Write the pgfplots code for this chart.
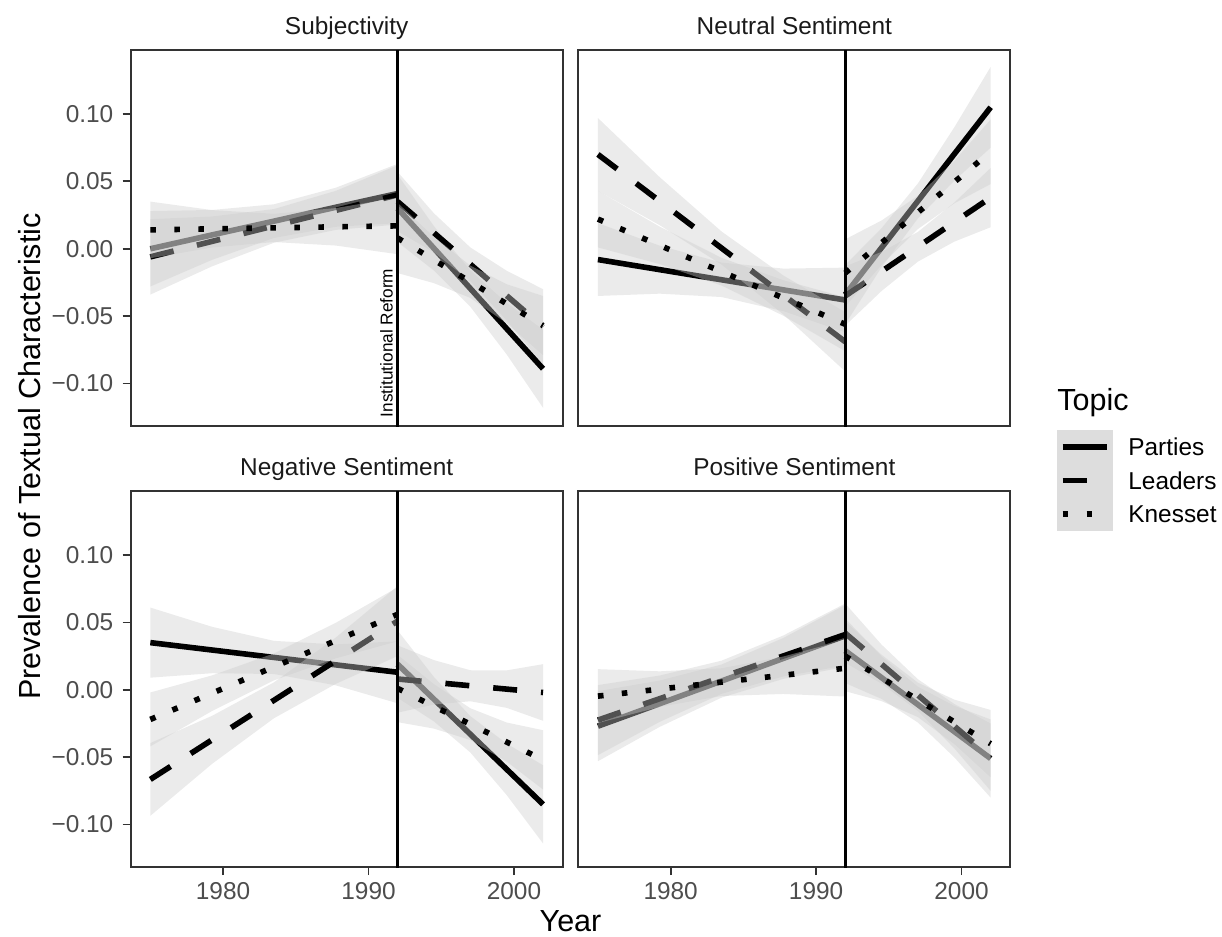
\documentclass[border=0pt]{standalone}
\usepackage{fontspec}
\setmainfont{Liberation Sans}
\usepackage{pgfplots}
\usepackage{pgfplotstable}
\pgfplotsset{compat=1.18}

\definecolor{ribfill}{gray}{0.8}
\definecolor{keyfill}{gray}{0.865}
\definecolor{tickgray}{HTML}{4D4D4D}
\definecolor{border}{HTML}{333333}
\definecolor{striptext}{HTML}{1A1A1A}

\newcommand{\smallfont}{\fontsize{12.2pt}{14pt}\selectfont}
\newcommand{\basefont}{\fontsize{15.25pt}{18pt}\selectfont}

\tikzset{
  parties/.style={black, line width=2.8pt},
  leaders/.style={black, line width=2.8pt, dash pattern=on 12pt off 12pt},
  knesset/.style={black, line width=2.8pt, dash pattern=on 2.8pt off 9.2pt},
  ribbon/.style={fill=ribfill, fill opacity=0.4, draw=none},
}

% year, fitted value (y) and band half-width (w) for Parties, Leaders, Knesset;
% rows run forward (s=1, upper edge) then back (s=-1, lower edge) so one path outlines the band
\pgfplotstableread{
x       s  Py      Pw      Ly      Lw      Ky      Kw
1975    1  0.000   0.028   -0.006  0.028   0.014   0.021
1979.25 1  0.0103  0.0185  0.0055  0.0185  0.0148  0.0139
1983.5  1  0.0205  0.0125  0.017   0.0125  0.0155  0.0105
1987.75 1  0.0308  0.0145  0.0285  0.0145  0.0163  0.0139
1992    1  0.041   0.022   0.040   0.022   0.017   0.021
1992    -1 0.041   0.022   0.040   0.022   0.017   0.021
1987.75 -1 0.0308  0.0145  0.0285  0.0145  0.0163  0.0139
1983.5  -1 0.0205  0.0125  0.017   0.0125  0.0155  0.0105
1979.25 -1 0.0103  0.0185  0.0055  0.0185  0.0148  0.0139
1975    -1 0.000   0.028   -0.006  0.028   0.014   0.021
}\SubPre
\pgfplotstableread{
x       s  Py      Pw      Ly      Lw      Ky      Kw
1992    1  0.030   0.025   0.035   0.022   0.008   0.026
1994.5  1  0.0003  0.0165  0.0118  0.0145  -0.0083 0.0172
1997    1  -0.0295 0.0135  -0.0115 0.0125  -0.0245 0.012
1999.5  1  -0.0593 0.0191  -0.0348 0.0185  -0.0408 0.0145
2002    1  -0.089  0.029   -0.058  0.028   -0.057  0.022
2002    -1 -0.089  0.029   -0.058  0.028   -0.057  0.022
1999.5  -1 -0.0593 0.0191  -0.0348 0.0185  -0.0408 0.0145
1997    -1 -0.0295 0.0135  -0.0115 0.0125  -0.0245 0.012
1994.5  -1 0.0003  0.0165  0.0118  0.0145  -0.0083 0.0172
1992    -1 0.030   0.025   0.035   0.022   0.008   0.026
}\SubPost
\pgfplotstableread{
x       s  Py      Pw      Ly      Lw      Ky      Kw
1975    1  -0.008  0.027   0.070   0.027   0.022   0.021
1979.25 1  -0.0155 0.0178  0.0353  0.0178  0.0025  0.0139
1983.5  1  -0.023  0.0128  0.0005  0.0123  -0.017  0.0103
1987.75 1  -0.0305 0.0158  -0.0343 0.0145  -0.0365 0.0132
1992    1  -0.038  0.024   -0.069  0.022   -0.056  0.020
1992    -1 -0.038  0.024   -0.069  0.022   -0.056  0.020
1987.75 -1 -0.0305 0.0158  -0.0343 0.0145  -0.0365 0.0132
1983.5  -1 -0.023  0.0128  0.0005  0.0123  -0.017  0.0103
1979.25 -1 -0.0155 0.0178  0.0353  0.0178  0.0025  0.0139
1975    -1 -0.008  0.027   0.070   0.027   0.022   0.021
}\NeuPre
\pgfplotstableread{
x       s  Py      Pw      Ly      Lw      Ky      Kw
1992    1  -0.034  0.022   -0.035  0.022   -0.018  0.025
1994.5  1  0.0008  0.0145  -0.0168 0.0145  0.0045  0.0165
1997    1  0.0355  0.013   0.0015  0.011   0.027   0.0123
1999.5  1  0.0703  0.0198  0.0198  0.0145  0.0495  0.0158
2002    1  0.105   0.030   0.038   0.022   0.072   0.024
2002    -1 0.105   0.030   0.038   0.022   0.072   0.024
1999.5  -1 0.0703  0.0198  0.0198  0.0145  0.0495  0.0158
1997    -1 0.0355  0.013   0.0015  0.011   0.027   0.0123
1994.5  -1 0.0008  0.0145  -0.0168 0.0145  0.0045  0.0165
1992    -1 -0.034  0.022   -0.035  0.022   -0.018  0.025
}\NeuPost
\pgfplotstableread{
x       s  Py      Pw      Ly      Lw      Ky      Kw
1975    1  0.035   0.026   -0.0665 0.027   -0.022  0.020
1979.25 1  0.0295  0.0172  -0.0371 0.0178  -0.0025 0.0132
1983.5  1  0.024   0.0123  -0.0078 0.0133  0.017   0.010
1987.75 1  0.0185  0.0152  0.0216  0.0172  0.0365  0.0132
1992    1  0.013   0.023   0.051   0.026   0.056   0.020
1992    -1 0.013   0.023   0.051   0.026   0.056   0.020
1987.75 -1 0.0185  0.0152  0.0216  0.0172  0.0365  0.0132
1983.5  -1 0.024   0.0123  -0.0078 0.0133  0.017   0.010
1979.25 -1 0.0295  0.0172  -0.0371 0.0178  -0.0025 0.0132
1975    -1 0.035   0.026   -0.0665 0.027   -0.022  0.020
}\NegPre
\pgfplotstableread{
x       s  Py      Pw      Ly      Lw      Ky      Kw
1992    1  0.019   0.025   0.008   0.025   0.001   0.025
1994.5  1  -0.007  0.0165  0.0055  0.0165  -0.0123 0.0165
1997    1  -0.033  0.0135  0.003   0.0115  -0.0255 0.0118
1999.5  1  -0.059  0.0191  0.0005  0.0139  -0.0388 0.0145
2002    1  -0.085  0.029   -0.002  0.021   -0.052  0.022
2002    -1 -0.085  0.029   -0.002  0.021   -0.052  0.022
1999.5  -1 -0.059  0.0191  0.0005  0.0139  -0.0388 0.0145
1997    -1 -0.033  0.0135  0.003   0.0115  -0.0255 0.0118
1994.5  -1 -0.007  0.0165  0.0055  0.0165  -0.0123 0.0165
1992    -1 0.019   0.025   0.008   0.025   0.001   0.025
}\NegPost
\pgfplotstableread{
x       s  Py      Pw      Ly      Lw      Ky      Kw
1975    1  -0.027  0.026   -0.0225 0.026   -0.0047 0.020
1979.25 1  -0.0103 0.0172  -0.0066 0.0172  0.0005  0.0132
1983.5  1  0.0065  0.0123  0.0093  0.0123  0.0057  0.0103
1987.75 1  0.0233  0.0152  0.0251  0.0152  0.0108  0.0139
1992    1  0.040   0.023   0.041   0.023   0.016   0.021
1992    -1 0.040   0.023   0.041   0.023   0.016   0.021
1987.75 -1 0.0233  0.0152  0.0251  0.0152  0.0108  0.0139
1983.5  -1 0.0065  0.0123  0.0093  0.0123  0.0057  0.0103
1979.25 -1 -0.0103 0.0172  -0.0066 0.0172  0.0005  0.0132
1975    -1 -0.027  0.026   -0.0225 0.026   -0.0047 0.020
}\PosPre
\pgfplotstableread{
x       s  Py      Pw      Ly      Lw      Ky      Kw
1992    1  0.029   0.024   0.042   0.022   0.025   0.026
1994.5  1  0.009   0.0158  0.019   0.0145  0.0088  0.0172
1997    1  -0.011  0.0133  -0.004  0.0118  -0.0075 0.0128
1999.5  1  -0.031  0.0191  -0.027  0.0165  -0.0238 0.0165
2002    1  -0.051  0.029   -0.050  0.025   -0.040  0.025
2002    -1 -0.051  0.029   -0.050  0.025   -0.040  0.025
1999.5  -1 -0.031  0.0191  -0.027  0.0165  -0.0238 0.0165
1997    -1 -0.011  0.0133  -0.004  0.0118  -0.0075 0.0128
1994.5  -1 0.009   0.0158  0.019   0.0145  0.0088  0.0172
1992    -1 0.029   0.024   0.042   0.022   0.025   0.026
}\PosPost

% band then line, one topic (later bands veil earlier lines, as in the original)
\newcommand{\topic}[4]{%
  \addplot[ribbon] table[x=x, y expr=\thisrow{#2}+\thisrow{s}*\thisrow{#3}] {#1};
  \addplot[#4, skip coords between index={5}{10}] table[x=x, y=#2] {#1};
}
\newcommand{\period}[1]{%
  \topic{#1}{Py}{Pw}{parties}
  \topic{#1}{Ly}{Lw}{leaders}
  \topic{#1}{Ky}{Kw}{knesset}
}
\newcommand{\reform}{%
  \addplot[black, line width=1.3pt] coordinates {(1992,-0.2) (1992,0.2)};
}

\pgfplotsset{
  panel/.style={
    scale only axis, width=216pt, height=188pt,
    xmin=1973.65, xmax=2003.35, ymin=-0.1315, ymax=0.1475,
    axis line style={border, line width=0.9pt},
    tick align=outside, xtick pos=left, ytick pos=left, major tick length=4pt,
    tick style={border, line width=0.9pt},
    xtick={1980,1990,2000}, xticklabels={1980,1990,2000},
    ytick={-0.1,-0.05,0,0.05,0.1},
    yticklabels={−0.10,−0.05,0.00,0.05,0.10},
    ticklabel style={font=\smallfont, text=tickgray},
    yticklabel style={anchor=east, inner sep=0pt, xshift=-4.5pt},
    xticklabel style={anchor=north, inner sep=0pt, yshift=-3.65pt},
    title style={at={(0.5,1)}, anchor=base, yshift=2pt, font=\smallfont, text=striptext},
  },
  notop/.style={xtick=\empty},
  noleft/.style={ytick=\empty},
}

\begin{document}
\begin{tikzpicture}

\begin{axis}[panel, notop, at={(65.35pt,-213pt)}, title={Subjectivity}]
  \period{\SubPre}
  \period{\SubPost}
  \reform
  \node[rotate=90, anchor=south west, inner sep=2.2pt, font=\fontsize{8.6pt}{10pt}\selectfont] at (axis cs:1992,-0.1284) {Institutional Reform};
\end{axis}

\begin{axis}[panel, notop, noleft, at={(289.15pt,-213pt)}, title={Neutral Sentiment}]
  \period{\NeuPre}
  \period{\NeuPost}
  \reform
\end{axis}

\begin{axis}[panel, at={(65.35pt,-433.5pt)}, title={Negative Sentiment}]
  \period{\NegPre}
  \period{\NegPost}
  \reform
\end{axis}

\begin{axis}[panel, noleft, at={(289.15pt,-433.5pt)}, title={Positive Sentiment}]
  \period{\PosPre}
  \period{\PosPost}
  \reform
\end{axis}

% axis titles
\node[anchor=base, font=\basefont] at (285.25pt,-465.8pt) {Year};
\node[rotate=90, anchor=base, font=\basefont] at (20pt,-228.25pt) {Prevalence of Textual Characteristic};

% legend
\node[anchor=base west, font=\basefont, inner sep=0pt] at (528.5pt,-205pt) {Topic};
\fill[keyfill] (528.3pt,-215pt) rectangle (556.3pt,-265.3pt);
\draw[parties] (531.3pt,-223.4pt) -- (553.5pt,-223.4pt);
\draw[leaders] (531.3pt,-240.2pt) -- (553.5pt,-240.2pt);
\draw[knesset] (531.3pt,-257.0pt) -- (553.5pt,-257.0pt);
\node[anchor=base west, font=\smallfont, inner sep=0pt] at (564pt,-227.8pt) {Parties};
\node[anchor=base west, font=\smallfont, inner sep=0pt] at (564pt,-244.6pt) {Leaders};
\node[anchor=base west, font=\smallfont, inner sep=0pt] at (564pt,-261.4pt) {Knesset};

\pgfresetboundingbox
\useasboundingbox (0,0) rectangle (611pt,-468.5pt);
\end{tikzpicture}
\end{document}
